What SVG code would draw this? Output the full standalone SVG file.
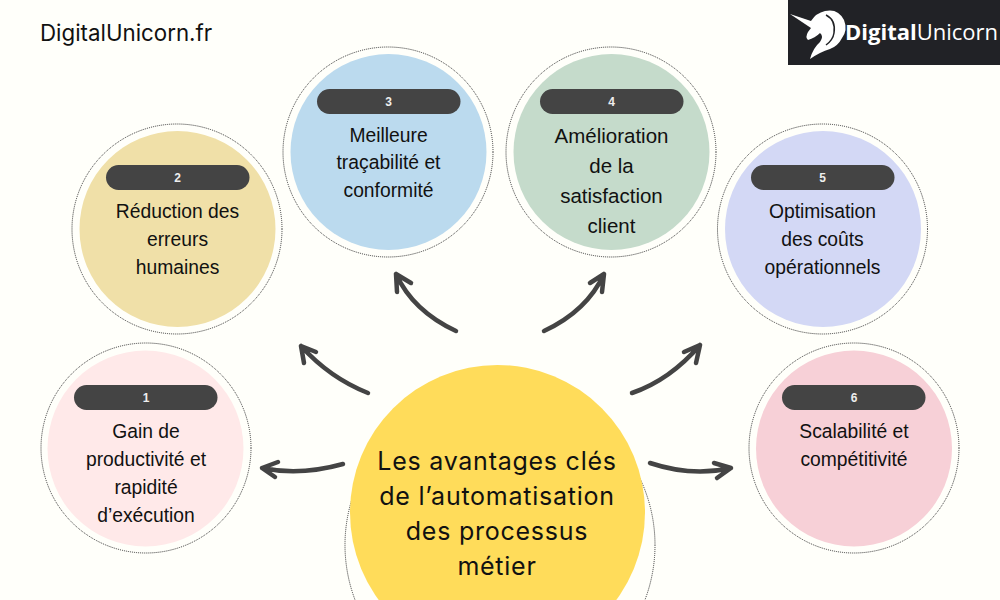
<svg xmlns="http://www.w3.org/2000/svg" width="1000" height="600" viewBox="0 0 1000 600">
<style>
.ring{fill:#fffffa;stroke:#333;stroke-width:1;stroke-dasharray:1 1}
.pill{fill:#444}
.num{font:bold 12px "Liberation Sans",Arial,sans-serif;fill:#eee;text-anchor:middle}
.t{font:19.300px "Liberation Sans",Arial,sans-serif;fill:#111;text-anchor:middle}
.b{font-size:20.500px}
.c{font:25px Inter,"Noto Sans",sans-serif;fill:#111;text-anchor:middle;letter-spacing:.75px}
.a{fill:none;stroke:#444;stroke-width:4.500;stroke-linecap:round;stroke-linejoin:round}
</style>
<rect width="1000" height="600" fill="#fffffa"/>
<text x="40" y="41" style="font:22.300px Inter,'Noto Sans',sans-serif;fill:#111">DigitalUnicorn.fr</text>
<g id="logo">
<rect x="788" y="0" width="212" height="65" fill="#212226"/>
<path d="M790 14L811 21Q816 13 825 11Q838 8 844 20Q848 30 842 38Q838 46 830 49Q820 52 810 59Q813 48 820 42Q824 36 820 33Q815 38 808 40Q805 37 808 32L811 28Z" fill="#fff"/>
<path d="M826 15Q836 20 834 33Q833 40 826 45" fill="none" stroke="#212226" stroke-width="1.500"/>
<text x="845" y="40" style="font:22px 'Open Sans',sans-serif;fill:#fff"><tspan font-weight="700">Digital</tspan><tspan>Unicorn</tspan></text>
</g>
<g id="connectors">
<path class="a" d="M343 464Q300 476 262 468M278 462L262 468L275 477"/>
<path class="a" d="M368 393Q330 378 301 346M316 352L301 346L304 363"/>
<path class="a" d="M456 331Q413 311 396 274M411 283L396 274L397 292"/>
<path class="a" d="M544 331Q587 311 604 274M590 283L604 274L602 292"/>
<path class="a" d="M632 393Q670 380 700 345M684 352L700 345L696 363"/>
<path class="a" d="M650 463Q692 477 731 468M714 463L731 468L717 478"/>
</g>
<g id="node-1"><circle class="ring" cx="146" cy="448" r="105"/><circle cx="145.500" cy="448.500" r="98" fill="#ffe9e9"/><rect class="pill" x="74" y="385" width="143.500" height="25" rx="12.500"/><text class="num" x="146" y="402">1</text>
<text class="t" x="146" y="437.500">Gain de</text><text class="t" x="146" y="465.500">productivité et</text><text class="t" x="146" y="493.500">rapidité</text><text class="t" x="146" y="521.500">d’exécution</text></g>
<g id="node-2"><circle class="ring" cx="177" cy="229" r="105"/><circle cx="177.500" cy="229" r="98" fill="#f0e0a8"/><rect class="pill" x="106" y="165" width="143.500" height="25" rx="12.500"/><text class="num" x="177.500" y="182">2</text>
<text class="t" x="177.500" y="218">Réduction des</text><text class="t" x="177.500" y="246">erreurs</text><text class="t" x="177.500" y="274">humaines</text></g>
<g id="node-3"><circle class="ring" cx="388" cy="152" r="105"/><circle cx="388.500" cy="152" r="98" fill="#bbdaee"/><rect class="pill" x="317" y="89" width="143.500" height="25" rx="12.500"/><text class="num" x="388.500" y="106">3</text>
<text class="t" x="388.500" y="142">Meilleure</text><text class="t" x="388.500" y="169">traçabilité et</text><text class="t" x="388.500" y="197">conformité</text></g>
<g id="node-4"><circle class="ring" cx="611" cy="152" r="105"/><circle cx="611.500" cy="152" r="98" fill="#c5dbcb"/><rect class="pill" x="540" y="89" width="143.500" height="25" rx="12.500"/><text class="num" x="611.500" y="106">4</text>
<text class="t b" x="611.500" y="142.500">Amélioration</text><text class="t b" x="611.500" y="172.500">de la</text><text class="t b" x="611.500" y="202.500">satisfaction</text><text class="t b" x="611.500" y="232.500">client</text></g>
<g id="node-5"><circle class="ring" cx="822.500" cy="229" r="105"/><circle cx="823" cy="229" r="98" fill="#d3d8f5"/><rect class="pill" x="751" y="165" width="143.500" height="25" rx="12.500"/><text class="num" x="822.500" y="182">5</text>
<text class="t" x="822.500" y="218">Optimisation</text><text class="t" x="822.500" y="246">des coûts</text><text class="t" x="822.500" y="274">opérationnels</text></g>
<g id="node-6"><circle class="ring" cx="854" cy="448" r="105"/><circle cx="854" cy="448.500" r="98" fill="#f7d0d7"/><rect class="pill" x="782" y="385" width="143.500" height="25" rx="12.500"/><text class="num" x="854" y="402">6</text>
<text class="t" x="854" y="438">Scalabilité et</text><text class="t" x="854" y="466">compétitivité</text></g>
<g id="node-center"><circle class="ring" cx="500" cy="545" r="155"/><circle cx="497.500" cy="512.500" r="147.500" fill="#ffdc5a"/>
<text class="c" x="497" y="470">Les avantages clés</text><text class="c" x="497" y="505">de l’automatisation</text><text class="c" x="497" y="540">des processus</text><text class="c" x="497" y="575">métier</text></g>
</svg>
